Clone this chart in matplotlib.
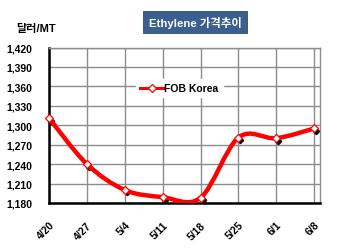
import numpy as np
import matplotlib.pyplot as plt
from matplotlib.path import Path
from matplotlib.patches import PathPatch
from matplotlib import transforms

dates = ['4/20', '4/27', '5/4', '5/11', '5/18', '5/25', '6/1', '6/8']
fob_korea = [1311, 1240, 1200, 1189, 1188, 1281, 1280, 1295]
y_ticks = [1180, 1210, 1240, 1270, 1300, 1330, 1360, 1390, 1420]

plt.rcParams['font.family'] = ['Liberation Sans', 'Noto Sans CJK KR']
plt.rcParams['font.weight'] = 'bold'

fig = plt.figure(figsize=(3.5, 2.53), dpi=100)
ax = fig.add_axes([0.14, 0.194, 0.774, 0.614])

x = np.arange(len(dates))
y = np.array(fob_korea, dtype=float)

# smoothed line like excel (catmull-rom as bezier segments)
verts = [(x[0], y[0])]
codes = [Path.MOVETO]
for i in range(len(x) - 1):
    p0 = (x[max(i - 1, 0)], y[max(i - 1, 0)])
    p1 = (x[i], y[i])
    p2 = (x[i + 1], y[i + 1])
    p3 = (x[min(i + 2, len(x) - 1)], y[min(i + 2, len(x) - 1)])
    c1 = (p1[0] + (p2[0] - p0[0]) / 6, p1[1] + (p2[1] - p0[1]) / 6)
    c2 = (p2[0] - (p3[0] - p1[0]) / 6, p2[1] - (p3[1] - p1[1]) / 6)
    verts += [c1, c2, p2]
    codes += [Path.CURVE4] * 3
ax.add_patch(PathPatch(Path(verts, codes), facecolor='none', edgecolor='#ff0000',
                       lw=3.2, capstyle='round', joinstyle='round', zorder=3))

# marker shadows
shadow = transforms.offset_copy(ax.transData, fig=fig, x=2.0, y=-2.5, units='dots')
ax.plot(x, y, linestyle='none', marker='D', markersize=3.2, color='black',
        transform=shadow, zorder=2.5, clip_on=False)
ax.plot(x, y, linestyle='none', marker='D', markersize=4.2, markerfacecolor='white',
        markeredgecolor='#ff0000', markeredgewidth=0.9, zorder=4, clip_on=False)

# legend proxy
ax.plot([], [], color='#ff0000', lw=2.2, marker='D', markersize=4.2,
        markerfacecolor='white', markeredgecolor='#ff0000', markeredgewidth=0.9,
        label='FOB Korea')
leg = ax.legend(loc='upper left', bbox_to_anchor=(0.325, 0.79), frameon=True,
                fontsize=7.5, handlelength=2.2, handletextpad=0.1,
                borderpad=0.3, borderaxespad=0)
leg.get_frame().set_edgecolor('white')
leg.get_frame().set_facecolor('white')
leg.get_frame().set_alpha(1)
leg.get_frame().set_boxstyle('square', pad=0.1)
for t in leg.get_texts():
    t.set_fontweight('bold')

ax.set_xlim(0, 7.15)
ax.set_ylim(1180, 1420)
ax.set_yticks(y_ticks)
ax.set_yticklabels([f'{v:,}' for v in y_ticks], fontsize=7.5, fontweight='bold')
ax.set_xticks(x)
ax.set_xticklabels(dates, fontsize=7.5, fontweight='bold', rotation=45,
                   ha='right', va='top', rotation_mode='anchor')
for lab in ax.get_xticklabels():
    lab.set_transform(lab.get_transform() + transforms.ScaledTranslation(7 / 100, 0, fig.dpi_scale_trans))
ax.tick_params(axis='x', length=0, pad=12)
ax.tick_params(axis='y', length=0, pad=12)

ax.grid(True, color='#8c8c8c', lw=1.0)
ax.set_axisbelow(True)
for side in ['left', 'bottom']:
    ax.spines[side].set_color('black')
    ax.spines[side].set_linewidth(1.8)
for side in ['top', 'right']:
    ax.spines[side].set_color('#8c8c8c')
    ax.spines[side].set_linewidth(1.0)

fig.text(0.045, 0.885, '달러/MT', fontsize=8, fontweight='bold', ha='left', va='center')
fig.text(0.557, 0.91, 'Ethylene 가격추이', fontsize=8.2, fontweight='bold', color='white',
         ha='center', va='center',
         bbox=dict(boxstyle='square,pad=0.45', facecolor='#3b5f8e', edgecolor='#2e4a70', lw=0.6))

fig.savefig('out.png', dpi=100)
